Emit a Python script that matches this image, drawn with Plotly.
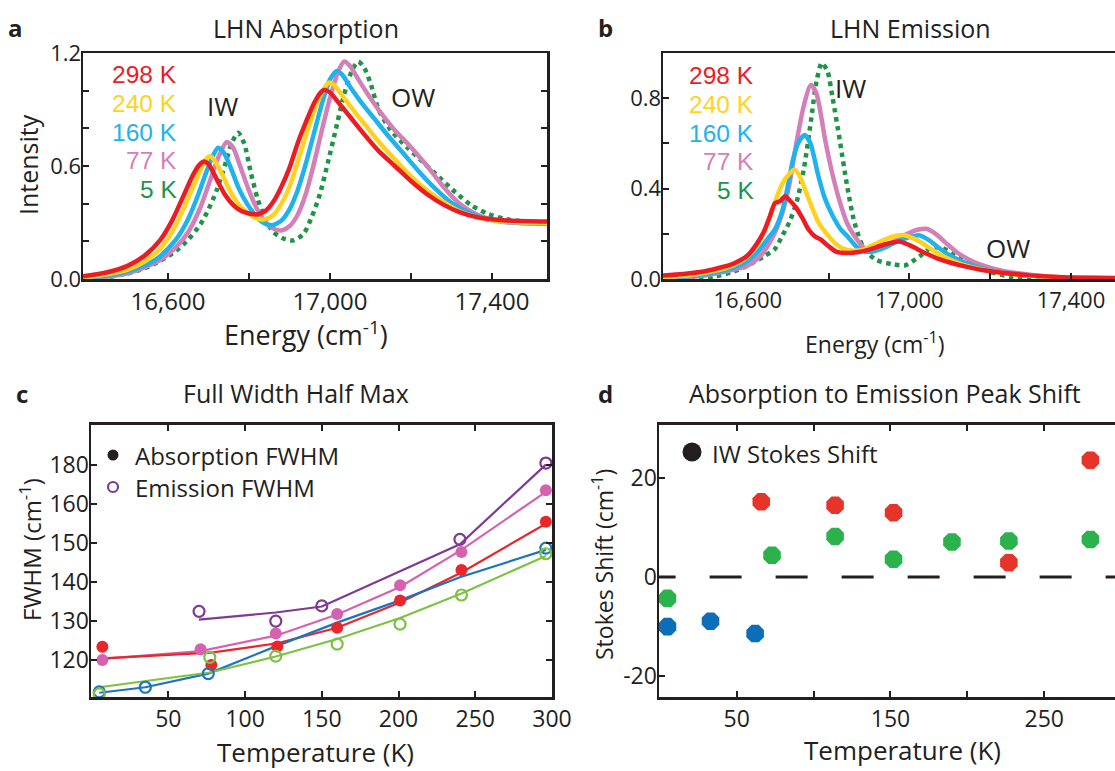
import plotly.graph_objects as go

W, H = 1115, 771
INK = "#231F20"
FONT = "Open Sans"
LFONT = "Liberation Sans"

# ---------------- Panel a: LHN absorption (energy cm^-1, intensity) ----------------
abs_298_E = [16390, 16450, 16500, 16540, 16580, 16610, 16640, 16660, 16675, 16688, 16700, 16720, 16740, 16760,
             16780, 16800, 16820, 16840, 16860, 16880, 16900, 16920, 16940, 16960, 16975, 16985, 17000, 17020,
             17050, 17080, 17120, 17160, 17200, 17240, 17280, 17320, 17360, 17400, 17450, 17536]
abs_298_I = [0.014, 0.036, 0.07, 0.12, 0.205, 0.31, 0.45, 0.545, 0.60, 0.624, 0.61, 0.53, 0.45, 0.395,
             0.362, 0.348, 0.343, 0.36, 0.41, 0.49, 0.59, 0.72, 0.83, 0.93, 0.985, 1.004, 0.99, 0.94,
             0.86, 0.78, 0.68, 0.60, 0.52, 0.45, 0.395, 0.355, 0.33, 0.317, 0.309, 0.305]

abs_240_E = [16390, 16450, 16500, 16540, 16580, 16610, 16640, 16660, 16680, 16695, 16703, 16715, 16735, 16755,
             16775, 16795, 16815, 16838, 16860, 16880, 16900, 16920, 16940, 16960, 16980, 16997, 17010, 17030,
             17060, 17090, 17120, 17160, 17200, 17240, 17280, 17320, 17360, 17400, 17450, 17536]
abs_240_I = [0.008, 0.025, 0.05, 0.09, 0.16, 0.25, 0.38, 0.48, 0.58, 0.64, 0.652, 0.63, 0.55, 0.46,
             0.395, 0.355, 0.325, 0.317, 0.34, 0.40, 0.49, 0.62, 0.76, 0.89, 0.99, 1.043, 1.03, 0.975,
             0.89, 0.81, 0.73, 0.635, 0.545, 0.47, 0.41, 0.36, 0.33, 0.312, 0.302, 0.298]

abs_160_E = [16390, 16450, 16500, 16540, 16580, 16620, 16650, 16675, 16695, 16712, 16724, 16738, 16755, 16775,
             16795, 16815, 16835, 16857, 16880, 16900, 16920, 16940, 16960, 16980, 17000, 17017, 17030, 17050,
             17080, 17110, 17140, 17180, 17220, 17260, 17300, 17340, 17380, 17420, 17470, 17536]
abs_160_I = [0.005, 0.018, 0.04, 0.07, 0.12, 0.21, 0.32, 0.45, 0.57, 0.66, 0.697, 0.67, 0.59, 0.48,
             0.40, 0.34, 0.30, 0.285, 0.31, 0.37, 0.47, 0.61, 0.77, 0.93, 1.06, 1.105, 1.085, 1.02,
             0.93, 0.85, 0.77, 0.67, 0.57, 0.48, 0.405, 0.355, 0.322, 0.305, 0.297, 0.295]

abs_77_E = [16390, 16450, 16500, 16540, 16580, 16620, 16650, 16680, 16705, 16725, 16745, 16760, 16778, 16798,
            16818, 16838, 16858, 16879, 16900, 16920, 16940, 16960, 16980, 17000, 17020, 17035, 17050, 17070,
            17100, 17130, 17160, 17200, 17240, 17280, 17320, 17360, 17400, 17450, 17536]
abs_77_I = [0.002, 0.012, 0.03, 0.06, 0.10, 0.17, 0.25, 0.38, 0.53, 0.65, 0.727, 0.70, 0.60, 0.48,
            0.38, 0.31, 0.27, 0.258, 0.28, 0.34, 0.45, 0.61, 0.79, 0.96, 1.10, 1.155, 1.13, 1.06,
            0.96, 0.87, 0.79, 0.70, 0.60, 0.49, 0.40, 0.345, 0.315, 0.30, 0.295]

abs_5_E = [16390, 16450, 16500, 16540, 16580, 16620, 16650, 16680, 16700, 16720, 16740, 16757, 16773, 16788,
           16805, 16822, 16840, 16860, 16885, 16910, 16935, 16955, 16975, 16995, 17015, 17035, 17055, 17070,
           17085, 17100, 17120, 17150, 17190, 17230, 17270, 17310, 17350, 17390, 17430, 17480, 17536]
abs_5_I = [0.0, 0.01, 0.03, 0.055, 0.095, 0.15, 0.21, 0.29, 0.37, 0.47, 0.60, 0.72, 0.777, 0.72,
           0.56, 0.42, 0.32, 0.25, 0.215, 0.205, 0.24, 0.33, 0.45, 0.62, 0.80, 0.98, 1.11, 1.155,
           1.12, 1.04, 0.90, 0.79, 0.70, 0.62, 0.54, 0.46, 0.39, 0.345, 0.32, 0.305, 0.30]

# ---------------- Panel b: LHN emission ----------------
em_298_E = [16390, 16440, 16490, 16530, 16560, 16580, 16600, 16620, 16640, 16655, 16667, 16680, 16692, 16705,
            16720, 16735, 16750, 16765, 16780, 16800, 16820, 16845, 16870, 16900, 16925, 16950, 16975, 17000,
            17020, 17045, 17070, 17100, 17140, 17180, 17230, 17300, 17380, 17460, 17509]
em_298_I = [0.015, 0.022, 0.033, 0.05, 0.065, 0.082, 0.105, 0.15, 0.21, 0.28, 0.335, 0.345, 0.366, 0.345,
            0.315, 0.27, 0.22, 0.19, 0.175, 0.145, 0.12, 0.115, 0.118, 0.13, 0.145, 0.158, 0.166, 0.15,
            0.132, 0.11, 0.09, 0.073, 0.055, 0.04, 0.028, 0.016, 0.008, 0.005, 0.004]

em_240_E = [16390, 16450, 16500, 16540, 16580, 16600, 16630, 16650, 16667, 16685, 16700, 16716, 16730, 16745,
            16756, 16775, 16792, 16815, 16837, 16860, 16885, 16910, 16940, 16965, 16985, 17010, 17035, 17060,
            17090, 17130, 17180, 17240, 17320, 17420, 17509]
em_240_I = [0.008, 0.015, 0.03, 0.045, 0.075, 0.10, 0.17, 0.25, 0.34, 0.42, 0.46, 0.484, 0.45, 0.38,
            0.33, 0.25, 0.207, 0.16, 0.133, 0.125, 0.13, 0.15, 0.175, 0.19, 0.195, 0.18, 0.155, 0.125,
            0.095, 0.065, 0.042, 0.025, 0.012, 0.005, 0.002]

em_160_E = [16390, 16450, 16500, 16550, 16590, 16620, 16650, 16667, 16685, 16700, 16712, 16727, 16741, 16755,
            16774, 16790, 16810, 16830, 16846, 16865, 16882, 16905, 16940, 16975, 17000, 17025, 17050, 17075,
            17100, 17140, 17190, 17250, 17330, 17430, 17509]
em_160_I = [0.004, 0.012, 0.022, 0.04, 0.07, 0.11, 0.18, 0.22, 0.30, 0.42, 0.53, 0.61, 0.637, 0.60,
            0.46, 0.36, 0.28, 0.22, 0.19, 0.15, 0.126, 0.12, 0.14, 0.17, 0.185, 0.193, 0.17, 0.135,
            0.105, 0.07, 0.042, 0.024, 0.01, 0.004, 0.002]

em_77_E = [16390, 16450, 16500, 16550, 16600, 16630, 16660, 16685, 16703, 16720, 16739, 16756, 16770, 16792,
           16810, 16828, 16845, 16864, 16890, 16920, 16960, 16995, 17020, 17042, 17065, 17090, 17120, 17160,
           17210, 17270, 17350, 17450, 17509]
em_77_I = [0.003, 0.008, 0.018, 0.035, 0.06, 0.10, 0.18, 0.29, 0.42, 0.60, 0.77, 0.859, 0.82, 0.61,
           0.46, 0.34, 0.25, 0.19, 0.135, 0.13, 0.165, 0.20, 0.218, 0.222, 0.20, 0.16, 0.115, 0.075,
           0.045, 0.025, 0.01, 0.004, 0.002]

em_5_E = [16390, 16470, 16520, 16560, 16600, 16640, 16667, 16685, 16703, 16721, 16739, 16756, 16770, 16783,
          16797, 16810, 16828, 16846, 16864, 16886, 16917, 16960, 16989, 17025, 17051, 17078, 17114, 17159,
          17203, 17257, 17320, 17509]
em_5_I = [0.0, 0.003, 0.012, 0.03, 0.06, 0.10, 0.133, 0.19, 0.252, 0.341, 0.49, 0.696, 0.874, 0.956,
          0.92, 0.80, 0.61, 0.41, 0.25, 0.14, 0.085, 0.065, 0.06, 0.10, 0.135, 0.14, 0.105, 0.06,
          0.03, 0.008, 0.001, 0.0]

# ---------------- Panel c: FWHM vs temperature ----------------
purple_T = [70, 120, 150, 240, 296]
purple_pts = [132.5, 130.0, 133.9, 151.0, 170.6]
purple_fit = [130.4, 132.2, 133.75, 149.75, 170.2]

pink_T = [7, 71, 120, 160, 201, 241, 296]
pink_pts = [120.0, 122.75, 126.8, 131.8, 139.2, 147.75, 163.6]
pink_fit = [120.3, 122.3, 126.25, 131.7, 138.75, 148.3, 163.2]

red_T = [7, 78, 121, 160, 201, 241, 296]
red_pts = [123.4, 118.7, 123.5, 128.3, 135.3, 143.1, 155.5]
red_fit = [120.4, 121.9, 124.3, 128.3, 134.75, 142.5, 155.0]

blue_T = [5, 35, 76, 296]
blue_pts = [111.8, 113.0, 116.5, 148.75]
blue_fit_T = [5, 35, 76, 120, 160, 200, 240, 296]
blue_fit = [111.6, 113.0, 116.5, 123.5, 129.6, 135.2, 141.25, 148.3]

green_T = [5, 77, 120, 160, 201, 241, 296]
green_pts = [111.3, 120.7, 121.0, 124.1, 129.2, 136.7, 147.3]
green_fit = [113.0, 116.8, 120.9, 125.4, 130.8, 137.1, 146.75]

fwhm_ticks = [120, 130, 140, 150, 160, 170]
fwhm_ticktext = ["120", "130", "140", "150", "160", "180"]

# ---------------- Panel d: Stokes shift ----------------
ss_blue_T = [5, 33, 62]
ss_blue = [-10.0, -8.9, -11.4]
ss_green_T = [5, 73, 114, 152, 190, 227, 280]
ss_green = [-4.3, 4.4, 8.2, 3.6, 7.1, 7.3, 7.6]
ss_red_T = [66, 114, 152, 227, 280]
ss_red = [15.2, 14.5, 13.0, 2.9, 23.6]
zero_T = [-10.5, 296]
zero_V = [0, 0]

# ---------------- colours ----------------
C298, C240, C160, C77, C5 = "#ED1C24", "#FFD21F", "#1FB2EC", "#D57FB9", "#1E9447"
CP, CPK, CR, CB, CG = "#7E3A96", "#D661AF", "#E8262B", "#1C75BC", "#7DC242"
DR, DG, DB = "#E5352A", "#2BB24C", "#0B6EB8"


def fx(px):
    return px / W


def fy(py):
    return 1 - py / H


fig = go.Figure()

specs_a = [(abs_5_E, abs_5_I, C5, "dot"), (abs_77_E, abs_77_I, C77, "solid"),
           (abs_160_E, abs_160_I, C160, "solid"), (abs_240_E, abs_240_I, C240, "solid"),
           (abs_298_E, abs_298_I, C298, "solid")]
for e, i, c, d in specs_a:
    fig.add_trace(go.Scatter(x=e, y=i, mode="lines", xaxis="x", yaxis="y",
                             line=dict(color=c, width=4.5, dash=d, shape="spline", smoothing=0.7),
                             showlegend=False, hoverinfo="skip"))

specs_b = [(em_5_E, em_5_I, C5, "dot"), (em_77_E, em_77_I, C77, "solid"),
           (em_160_E, em_160_I, C160, "solid"), (em_240_E, em_240_I, C240, "solid"),
           (em_298_E, em_298_I, C298, "solid")]
for e, i, c, d in specs_b:
    fig.add_trace(go.Scatter(x=e, y=i, mode="lines", xaxis="x2", yaxis="y2",
                             line=dict(color=c, width=4.5, dash=d, shape="spline", smoothing=0.7),
                             showlegend=False, hoverinfo="skip"))

for t, v, c in [(purple_T, purple_fit, CP), (pink_T, pink_fit, CPK), (red_T, red_fit, CR),
                (blue_fit_T, blue_fit, CB), (green_T, green_fit, CG)]:
    fig.add_trace(go.Scatter(x=t, y=v, mode="lines", xaxis="x3", yaxis="y3",
                             line=dict(color=c, width=2.2), showlegend=False, hoverinfo="skip"))
for t, v, c in [(red_T, red_pts, CR), (pink_T, pink_pts, CPK)]:
    fig.add_trace(go.Scatter(x=t, y=v, mode="markers", xaxis="x3", yaxis="y3",
                             marker=dict(symbol="circle", size=12, color=c, line=dict(width=0)),
                             showlegend=False, hoverinfo="skip"))
for t, v, c in [(purple_T, purple_pts, CP), (blue_T, blue_pts, CB), (green_T, green_pts, CG)]:
    fig.add_trace(go.Scatter(x=t, y=v, mode="markers", xaxis="x3", yaxis="y3",
                             marker=dict(symbol="circle-open", size=11, color=c, line=dict(width=2.2, color=c)),
                             showlegend=False, hoverinfo="skip"))

fig.add_trace(go.Scatter(x=zero_T, y=zero_V, mode="lines", xaxis="x4", yaxis="y4",
                         line=dict(color=INK, width=3, dash="32px,34px"), showlegend=False, hoverinfo="skip"))
for t, v, c in [(ss_blue_T, ss_blue, DB), (ss_green_T, ss_green, DG), (ss_red_T, ss_red, DR)]:
    fig.add_trace(go.Scatter(x=t, y=v, mode="markers", xaxis="x4", yaxis="y4",
                             marker=dict(symbol="octagon", size=19, color=c, line=dict(width=0)),
                             showlegend=False, hoverinfo="skip"))


def ax(domain, rng, tickvals, ticktext, size, mirror, anchor, standoff, minor=None):
    d = dict(domain=domain, range=rng, tickmode="array", tickvals=tickvals, ticktext=ticktext,
             showline=True, linecolor=INK, linewidth=2.5, ticks="inside", ticklen=6, tickwidth=2,
             tickcolor=INK, showgrid=False, zeroline=False, mirror=mirror, anchor=anchor,
             ticklabelstandoff=standoff, tickfont=dict(family=FONT, size=size, color=INK),
             fixedrange=True, automargin=False)
    if minor is not None:
        d["minor"] = dict(tickmode="array", tickvals=minor, ticks="inside", ticklen=6, tickwidth=2,
                          tickcolor=INK, showgrid=False)
    return d


ya_vals = [0, 0.6, 1.2]
ya_minor = [0.2, 0.4, 0.8, 1.0]
yb_vals = [0, 0.4, 0.8]
yb_minor = [0.2, 0.6, 1.0]
xe_vals = [16600, 17000, 17400]
xe_text = ["16,600", "17,000", "17,400"]
xe_minor = [16800, 17200]
xc_vals = [50, 100, 150, 200, 250, 300]
xd_vals = [50, 150, 250]
xd_minor = [100, 200]

top_dom = [fy(279), fy(53)]
bot_dom = [fy(697), fy(424.5)]

fig.update_layout(
    template="none",
    width=W, height=H, autosize=False, margin=dict(l=0, r=0, t=0, b=0, pad=0),
    paper_bgcolor="white", plot_bgcolor="white", showlegend=False, dragmode=False,
    font=dict(family=FONT, color=INK),
    xaxis=ax([fx(83), fx(547)], [16390, 17536], xe_vals, xe_text, 24, True, "y", 0, xe_minor),
    yaxis=ax(top_dom, [0, 1.2], ya_vals, ["0.0", "0.6", "1.2"], 22, "ticks", "x", -5, ya_minor),
    xaxis2=ax([fx(663), 1.0], [16390, 17509], xe_vals, xe_text, 22, True, "y2", 0, xe_minor),
    yaxis2=ax(top_dom, [0, 1.0], yb_vals, ["0.0", "0.4", "0.8"], 22, False, "x2", -5, yb_minor),
    xaxis3=ax([fx(91), fx(552)], [-0.4, 300], xc_vals, [str(v) for v in xc_vals], 23, "ticks", "y3", 0),
    yaxis3=ax(bot_dom, [110.5, 180.5], fwhm_ticks, fwhm_ticktext, 23, "ticks", "x3", -5),
    xaxis4=ax([fx(659), 1.0], [-0.5, 296], xd_vals, ["50", "150", "250"], 23, "ticks", "y4", 0, xd_minor),
    yaxis4=ax(bot_dom, [-24.2, 30.8], [-20, 0, 20], ["-20", "0", "20"], 23, False, "x4", -5),
)

ann = []


def txt(s, x, y, size, color=INK, xanchor="center", angle=0, bold=False, family=FONT):
    ann.append(dict(text=("<b>%s</b>" % s) if bold else s, x=fx(x), y=fy(y), xref="paper", yref="paper",
                    xanchor=xanchor, yanchor="middle", showarrow=False, textangle=angle, borderpad=0,
                    font=dict(family=family, size=size, color=color)))


txt("a", 15, 28, 24, bold=True)
txt("b", 605, 28, 24, bold=True)
txt("c", 22, 393, 24, bold=True)
txt("d", 605, 393, 24, bold=True)
txt("LHN Absorption", 306, 28, 25)
txt("LHN Emission", 910, 28, 25)
txt("Full Width Half Max", 296, 393, 25)
txt("Absorption to Emission Peak Shift", 885, 393, 25)

temps = ["298 K", "240 K", "160 K", "77 K", "5 K"]
tcols = [C298, C240, C160, C77, C5]
rows = [75, 103.5, 132, 160.5, 189]
for s, c, r in zip(temps, tcols, rows):
    txt(s, 178, r, 24.5, color=c, xanchor="right", family=LFONT)
    txt(s, 755, r + 1, 24.5, color=c, xanchor="right", family=LFONT)

txt("IW", 222, 106, 26)
txt("OW", 413, 97, 26)
txt("IW", 850, 88, 26)
txt("OW", 1008, 248, 26)

txt("Energy (cm<sup>-1</sup>)", 306, 333, 27)
txt("Energy (cm<sup>-1</sup>)", 874, 343, 23)
txt("Intensity", 28, 165, 25, angle=-90)
txt("Temperature (K)", 315, 752, 26)
txt("Temperature (K)", 902, 750, 26)
txt("FWHM (cm<sup>-1</sup>)", 30, 550, 24, angle=-90)
txt("Stokes Shift (cm<sup>-1</sup>)", 603, 565, 23, angle=-90)

txt("Absorption FWHM", 134, 455, 24, xanchor="left")
txt("Emission FWHM", 134, 487, 24, xanchor="left")
txt("IW Stokes Shift", 711, 453, 24, xanchor="left")

shapes = []


def circ(cx, cy, r, fill, line_color, lw):
    shapes.append(dict(type="circle", xref="paper", yref="paper",
                       x0=fx(cx - r), x1=fx(cx + r), y0=fy(cy + r), y1=fy(cy - r),
                       fillcolor=fill, line=dict(color=line_color, width=lw)))


circ(113, 455, 5.5, INK, INK, 0)
circ(113, 487, 5, "rgba(0,0,0,0)", CP, 2.2)
circ(692, 452, 9.5, INK, INK, 0)

fig.update_layout(annotations=ann, shapes=shapes)
fig.write_html("out.html", config={"displayModeBar": False, "staticPlot": True},
               post_script="document.body.style.margin='0';document.body.style.overflow='hidden';")
